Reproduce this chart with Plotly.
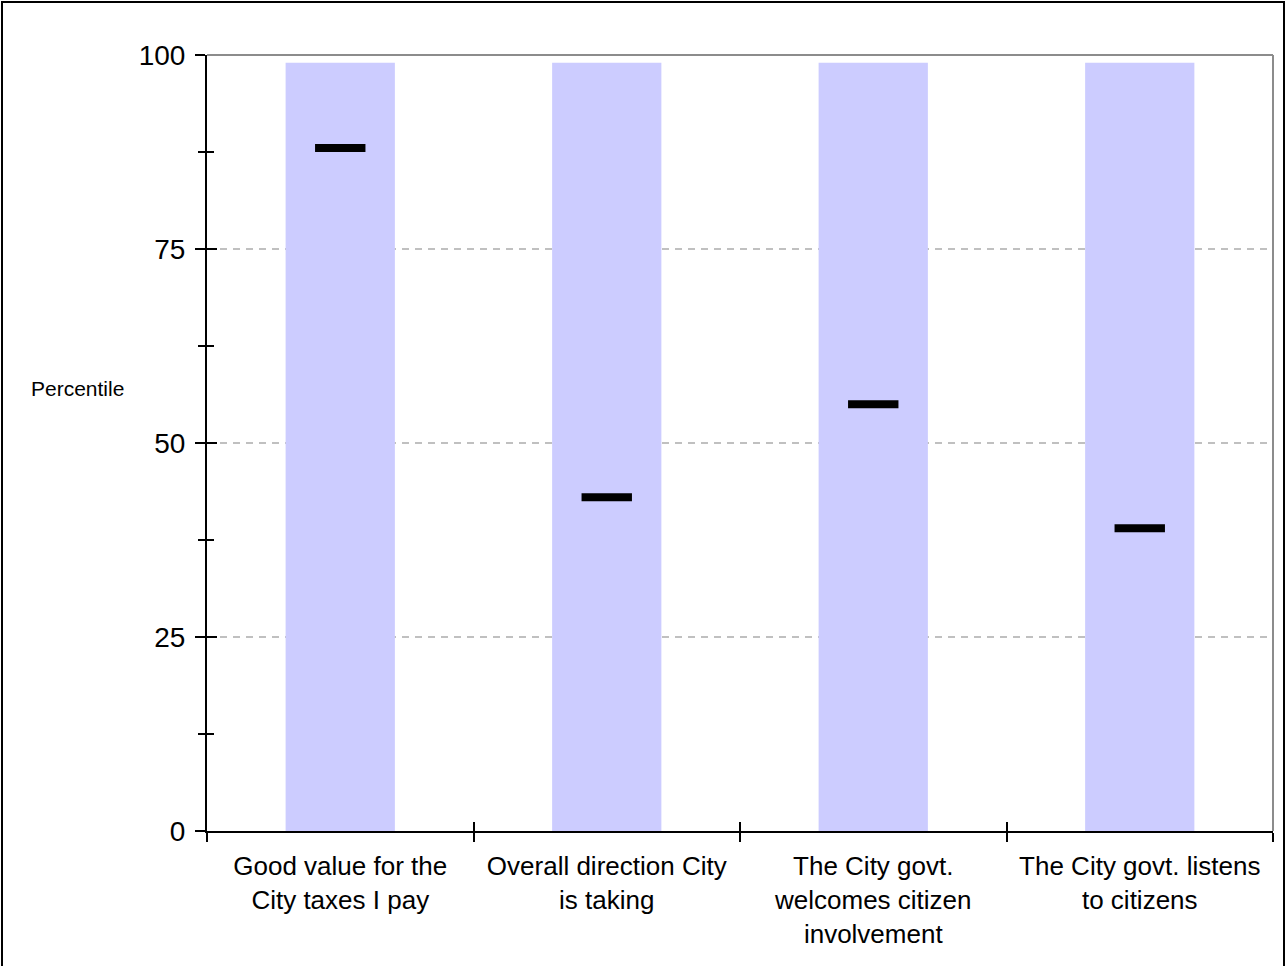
import plotly.graph_objects as go

categories = [
    "Good value for the<br>City taxes I pay",
    "Overall direction City<br>is taking",
    "The City govt.<br>welcomes citizen<br>involvement",
    "The City govt. listens<br>to citizens",
]
range_top = [99, 99, 99, 99]
percentile = [88, 43, 55, 39]
y_ticks = [0, 25, 50, 75, 100]
y_minor = [12.5, 37.5, 62.5, 87.5]

pos = list(range(len(categories)))
bounds = [p - 0.5 for p in pos] + [pos[-1] + 0.5]

FONT = "Liberation Sans, Arial, sans-serif"
W, H = 1288, 966
L, R, T, B = 207, 15, 55, 135
pw, ph = W - L - R, H - T - B

fig = go.Figure()
fig.add_trace(go.Bar(x=pos, y=range_top, width=0.41, marker=dict(color="#CCCCFF", line=dict(width=0)),
                     showlegend=False, hoverinfo="skip"))
fig.add_trace(go.Scatter(x=pos, y=percentile, mode="markers", showlegend=False,
                         marker=dict(symbol="line-ew", size=36, line=dict(width=8, color="black"), color="black")))
# invisible trace on overlay axes so they render
fig.add_trace(go.Scatter(x=pos, y=percentile, xaxis="x2", yaxis="y2", mode="markers",
                         marker=dict(opacity=0), showlegend=False, hoverinfo="skip"))

fig.update_layout(
    width=W, height=H,
    margin=dict(l=L, r=R, t=T, b=B),
    paper_bgcolor="white", plot_bgcolor="white",
    font=dict(family=FONT, color="black"),
    xaxis=dict(range=[-0.5, len(categories) - 0.5], tickmode="array", tickvals=pos, ticktext=categories,
               ticks="", ticklen=0, tickfont=dict(size=26), showgrid=False, zeroline=False,
               showline=True, linecolor="black", linewidth=2,
               minor=dict(tickmode="array", tickvals=bounds, ticks="outside", ticklen=9, tickwidth=2,
                          tickcolor="black", showgrid=False),
               ticklabelstandoff=11),
    yaxis=dict(range=[0, 100], tickmode="array", tickvals=y_ticks, ticks="outside", ticklen=10, tickwidth=2,
               tickcolor="black", tickfont=dict(size=28), showgrid=True, gridcolor="#C0C0C0", gridwidth=2,
               griddash="7px,6px", zeroline=False, showline=True, linecolor="black", linewidth=2,
               minor=dict(tickmode="array", tickvals=y_minor, ticks="outside", ticklen=7, tickwidth=2,
                          tickcolor="black", showgrid=False),
               ticklabelstandoff=4),
    xaxis2=dict(overlaying="x", range=[-0.5, len(categories) - 0.5], tickmode="array", tickvals=bounds,
                ticks="inside", ticklen=9, tickwidth=2, tickcolor="black", showticklabels=False,
                showgrid=False, zeroline=False, showline=False, side="bottom"),
    yaxis2=dict(overlaying="y", range=[0, 100], tickmode="array", tickvals=y_ticks, ticks="inside",
                ticklen=10, tickwidth=2, tickcolor="black", showticklabels=False, showgrid=False,
                zeroline=False, showline=False,
                minor=dict(tickmode="array", tickvals=y_minor, ticks="inside", ticklen=7, tickwidth=2,
                           tickcolor="black", showgrid=False)),
    shapes=[
        dict(type="line", xref="paper", yref="paper", x0=0, x1=1, y0=1, y1=1,
             line=dict(color="#8C8C8C", width=2), layer="below"),
        dict(type="line", xref="paper", yref="paper", x0=1, x1=1, y0=0, y1=1,
             line=dict(color="#8C8C8C", width=2), layer="below"),
        dict(type="rect", xref="paper", yref="paper",
             x0=(2 - L) / pw, x1=(1284 - L) / pw, y0=(H - B - 970) / ph, y1=(H - B - 2) / ph,
             line=dict(color="black", width=2)),
    ],
    annotations=[
        dict(text="Percentile", xref="paper", yref="paper", x=(126 - L) / pw, y=(H - B - 388) / ph,
             xanchor="right", yanchor="middle", showarrow=False, font=dict(size=21, family=FONT)),
    ],
)

fig.write_html("out.html", config={"displayModeBar": False},
               post_script="document.body.style.margin='0';document.body.style.overflow='hidden';")
